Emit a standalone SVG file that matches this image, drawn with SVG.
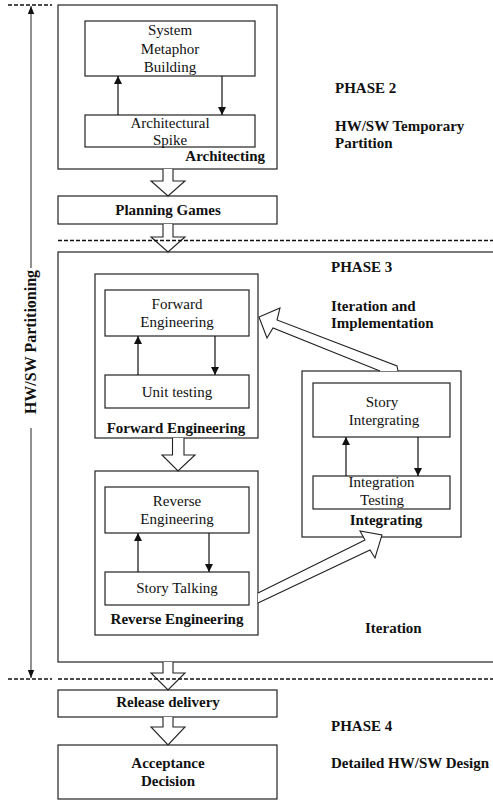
<svg xmlns="http://www.w3.org/2000/svg" width="493" height="800" viewBox="0 0 493 800">
<defs>
<style>
.box{fill:#fff;stroke:#222;stroke-width:1.2}
.t{font-family:"Liberation Serif","Times New Roman",serif;font-size:15px;fill:#111;text-anchor:middle}
.b{font-family:"Liberation Serif","Times New Roman",serif;font-size:15px;font-weight:bold;fill:#111}
.c{text-anchor:middle}
.ln{stroke:#111;stroke-width:1.2;fill:none}
.hol{fill:#fff;stroke:#222;stroke-width:1.1;stroke-linejoin:miter}
.dash{stroke:#111;stroke-width:1.3;stroke-dasharray:4 2;fill:none}
</style>
<marker id="ah" viewBox="0 0 10 10" refX="10" refY="5" markerWidth="8" markerHeight="8" markerUnits="userSpaceOnUse" orient="auto">
<path d="M0,0 L10,5 L0,10 z" fill="#111"/>
</marker>
<marker id="ahg" viewBox="0 0 10 10" refX="10" refY="5" markerWidth="8" markerHeight="10" markerUnits="userSpaceOnUse" orient="auto">
<path d="M0,1 L10,5 L0,9 z" fill="#111"/>
</marker>
</defs>

<g id="partition-axis">
<line x1="31" y1="268" x2="31" y2="6" stroke="#555" stroke-width="1.3" marker-end="url(#ahg)"/>
<line x1="31" y1="428" x2="31" y2="678" stroke="#555" stroke-width="1.3" marker-end="url(#ahg)"/>
<text class="b c" font-size="16" transform="translate(36,342) rotate(-90)" style="font-size:16px">HW/SW Partitioning</text>
</g>

<g id="architecting">
<rect class="box" x="58" y="5" width="219" height="164"/>
<text class="b" x="265" y="161" text-anchor="end">Architecting</text>
</g>
<g id="system-metaphor">
<rect class="box" x="85" y="21" width="170" height="55"/>
<text class="t" x="170" y="35">System</text>
<text class="t" x="170" y="53.5">Metaphor</text>
<text class="t" x="170" y="72">Building</text>
</g>
<g id="architectural-spike">
<rect class="box" x="85" y="115" width="170" height="32"/>
<text class="t" x="170" y="128">Architectural</text>
<text class="t" x="170" y="145">Spike</text>
</g>

<g id="planning-games">
<rect class="box" x="58" y="196" width="219" height="28"/>
<text class="b c" x="168" y="214.5">Planning Games</text>
</g>

<g id="phase3">
<rect class="box" x="58" y="252" width="440" height="410"/>
</g>

<g id="forward-engineering-group">
<rect class="box" x="95" y="274" width="163" height="164"/>
<text class="b c" x="176" y="433">Forward Engineering</text>
</g>
<g id="forward-engineering">
<rect class="box" x="105" y="290" width="144" height="46"/>
<text class="t" x="177" y="309">Forward</text>
<text class="t" x="177" y="327">Engineering</text>
</g>
<g id="unit-testing">
<rect class="box" x="105" y="375" width="144" height="33"/>
<text class="t" x="177" y="397">Unit testing</text>
</g>

<g id="reverse-engineering-group">
<rect class="box" x="95" y="471" width="163" height="164"/>
<text class="b c" x="177" y="624">Reverse Engineering</text>
</g>
<g id="reverse-engineering">
<rect class="box" x="105" y="487" width="144" height="46"/>
<text class="t" x="177" y="505.5">Reverse</text>
<text class="t" x="177" y="524">Engineering</text>
</g>
<g id="story-talking">
<rect class="box" x="105" y="572" width="144" height="33"/>
<text class="t" x="177" y="593">Story Talking</text>
</g>

<g id="integrating-group">
<rect class="box" x="302" y="371" width="159" height="166"/>
<text class="b c" x="386" y="525">Integrating</text>
</g>
<g id="story-integrating">
<rect class="box" x="313" y="383" width="137" height="54"/>
<text class="t" x="382" y="407">Story</text>
<text class="t" x="384" y="425">Intergrating</text>
</g>
<g id="integration-testing">
<rect class="box" x="313" y="476" width="137" height="33"/>
<text class="t" x="381.5" y="487">Integration</text>
<text class="t" x="382" y="505">Testing</text>
</g>

<g id="release-delivery">
<rect class="box" x="58" y="690" width="219" height="27"/>
<text class="b c" x="168" y="707">Release delivery</text>
</g>
<g id="acceptance-decision">
<rect class="box" x="58" y="745" width="219" height="54"/>
<text class="b c" x="168" y="768">Acceptance</text>
<text class="b c" x="168" y="785.5">Decision</text>
</g>

<g id="labels">
<text class="b" x="335" y="93">PHASE 2</text>
<text class="b" x="335" y="131">HW/SW Temporary</text>
<text class="b" x="335" y="148">Partition</text>
<text class="b" x="331" y="272">PHASE 3</text>
<text class="b" x="331" y="310.5">Iteration and</text>
<text class="b" x="331" y="328">Implementation</text>
<text class="b" x="365" y="633">Iteration</text>
<text class="b" x="331" y="731">PHASE 4</text>
<text class="b" x="331" y="768">Detailed HW/SW Design</text>
</g>

<g id="connectors">
<line class="ln" x1="118" y1="115" x2="118" y2="76" marker-end="url(#ah)"/>
<line class="ln" x1="222" y1="76" x2="222" y2="115" marker-end="url(#ah)"/>
<line class="ln" x1="138" y1="375" x2="138" y2="336" marker-end="url(#ah)"/>
<line class="ln" x1="215" y1="336" x2="215" y2="375" marker-end="url(#ah)"/>
<line class="ln" x1="138" y1="572" x2="138" y2="533" marker-end="url(#ah)"/>
<line class="ln" x1="209" y1="533" x2="209" y2="572" marker-end="url(#ah)"/>
<line class="ln" x1="346" y1="476" x2="346" y2="437" marker-end="url(#ah)"/>
<line class="ln" x1="418" y1="437" x2="418" y2="476" marker-end="url(#ah)"/>
<path class="hol" d="M163,169 V181 H151 L168,196 L185,181 H173 V169"/>
<path class="hol" d="M163,224 V237 H151 L168,252 L185,237 H173 V224"/>
<path class="hol" d="M172.5,438 V455 H162 L178,471 L195,455 H184 V438"/>
<path class="hol" d="M163,662 V673 H151 L168,690 L185,673 H173 V662"/>
<path class="hol" d="M163,717 V727 H151 L168,745 L185,727 H173 V717"/>
<path class="hol" d="M398,371 L397,366 L277,320 L280,308 L259,317 L267,338 L273,328 L380,371"/>
<path class="hol" d="M258,593 L365,540 L360,531 L382,535 L375,558 L370,550 L258,603"/>
</g>

<g id="phase-dividers">
<line class="dash" x1="8" y1="5" x2="52" y2="5"/>
<line class="dash" x1="58" y1="240.5" x2="493" y2="240.5"/>
<line class="dash" x1="8" y1="679" x2="52" y2="679"/>
<line class="dash" x1="58" y1="679" x2="493" y2="679"/>
</g>
</svg>
